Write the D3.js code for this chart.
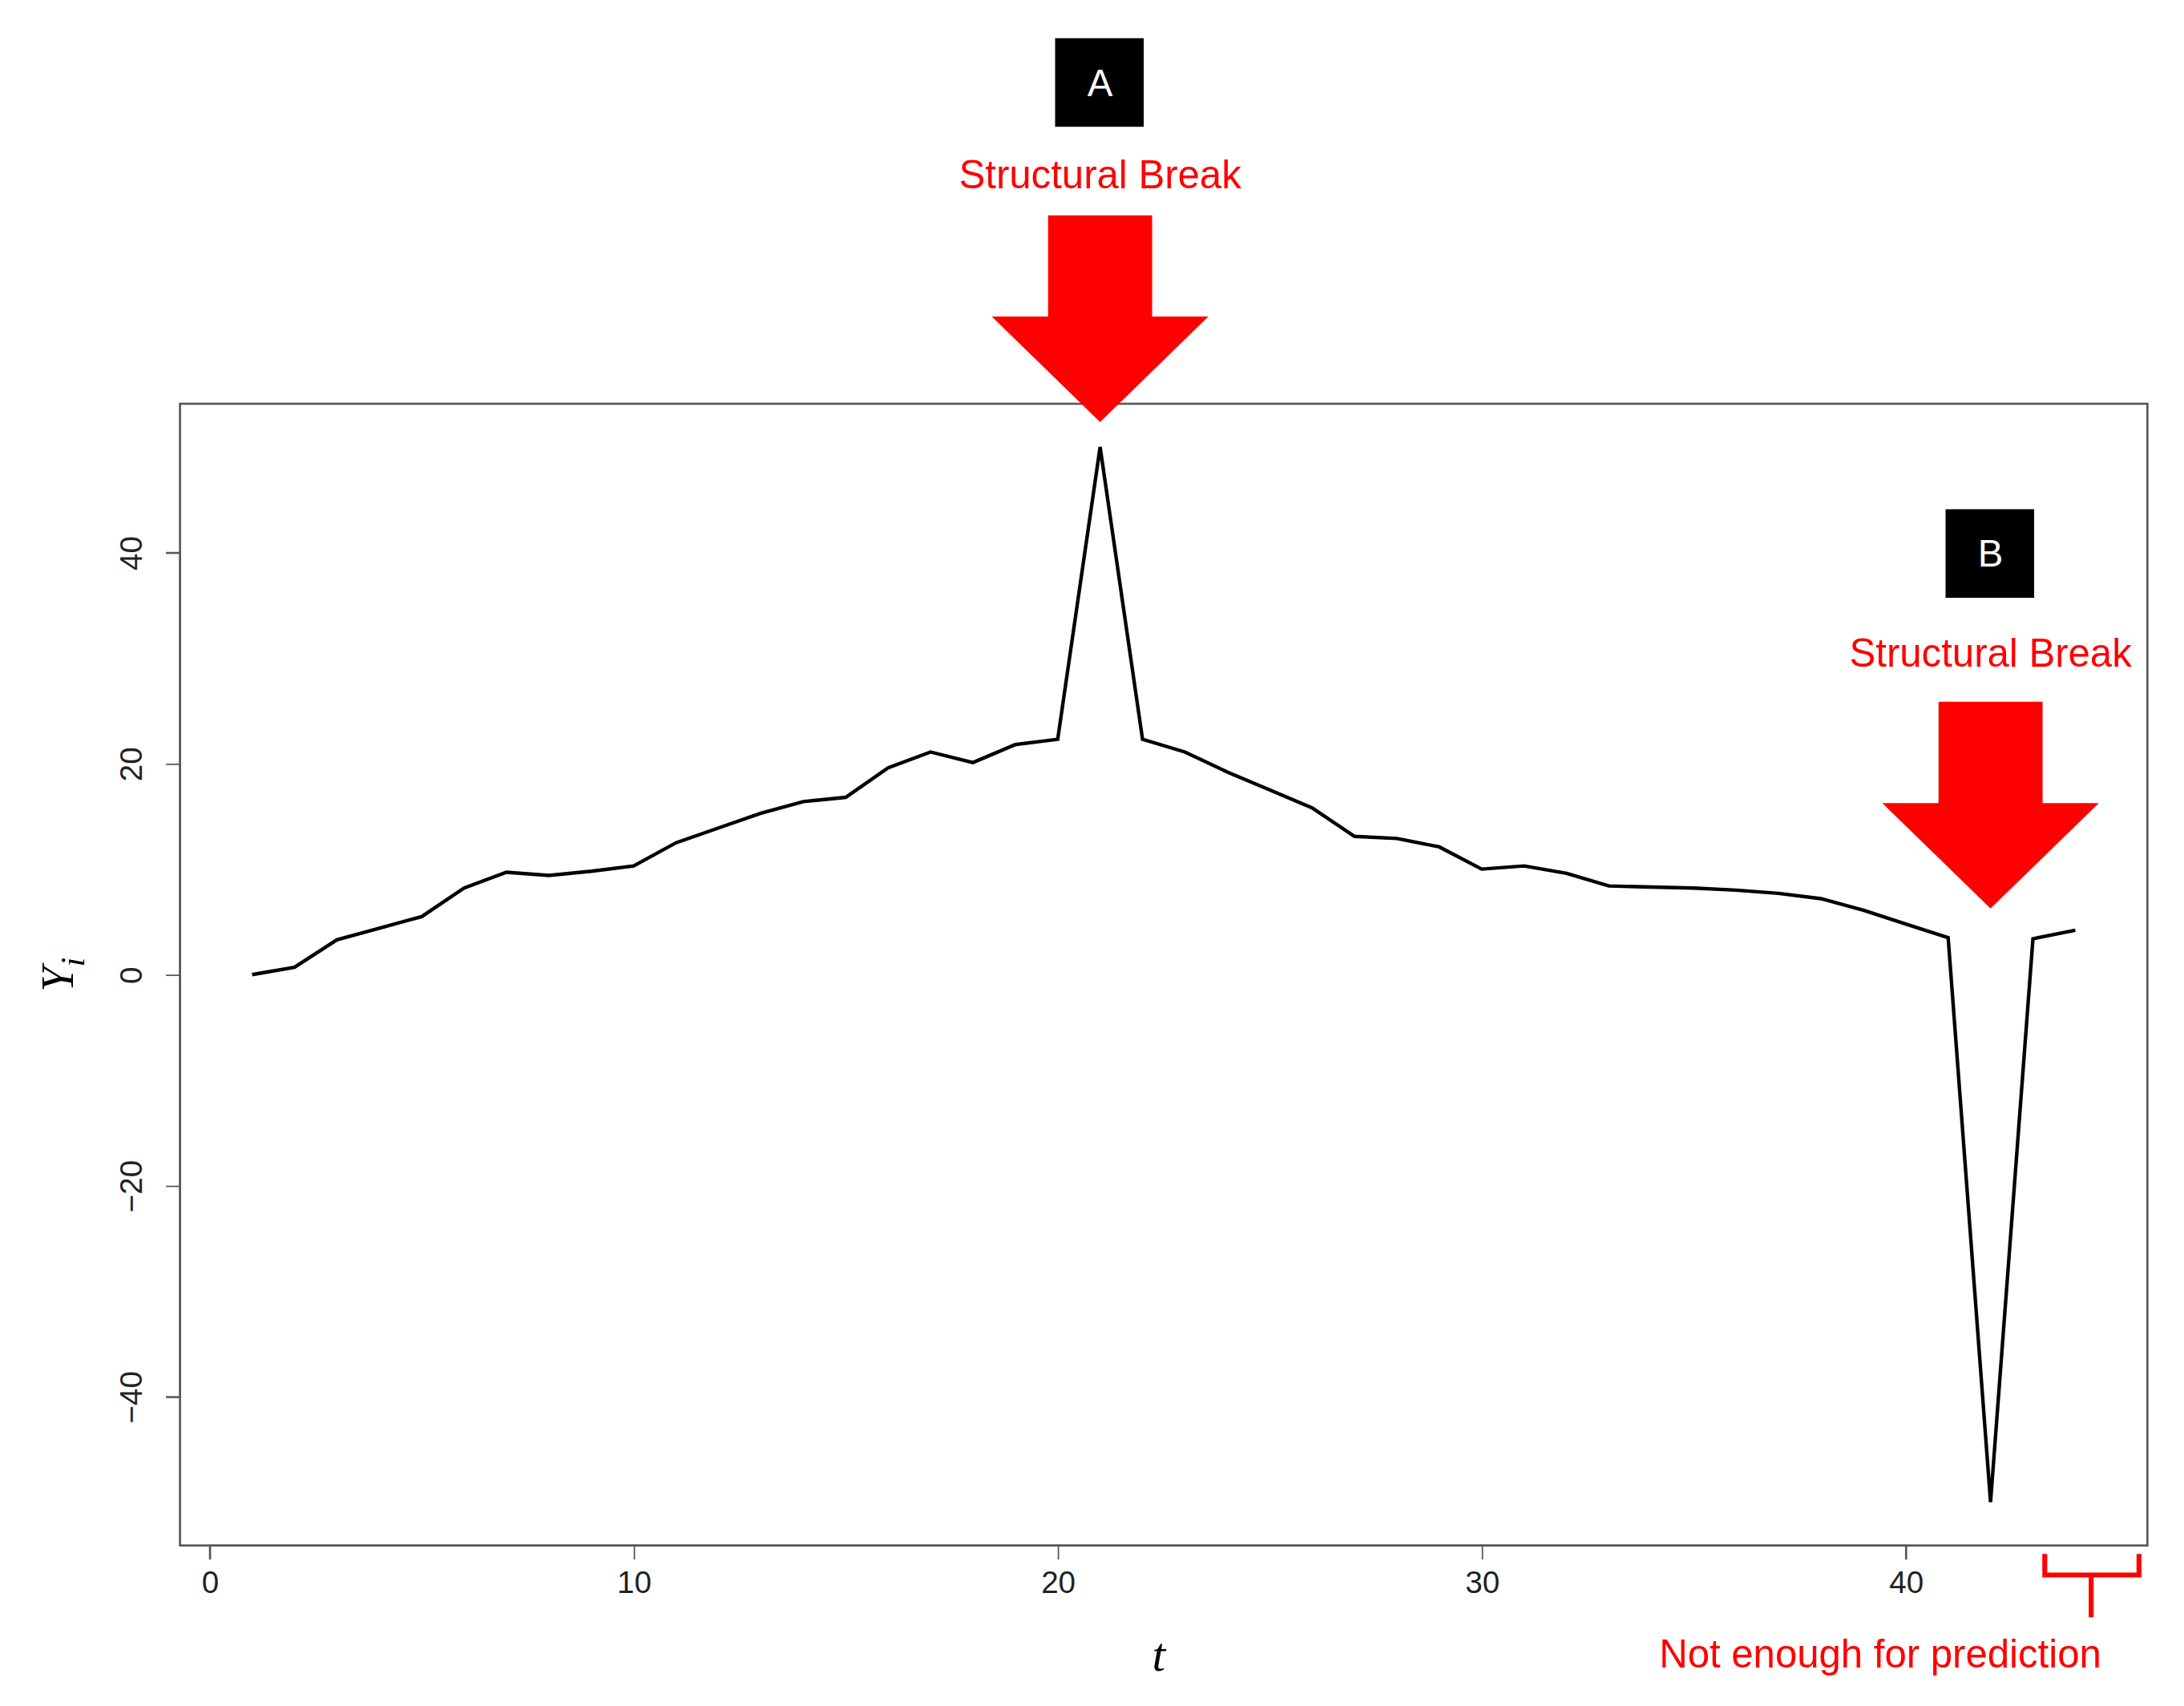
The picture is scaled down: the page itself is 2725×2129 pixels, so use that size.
<!DOCTYPE html>
<html><head><meta charset="utf-8">
<script src="https://cdn.jsdelivr.net/npm/d3@7"></script>
<style>body{margin:0;background:#fff;overflow:hidden}</style></head>
<body><svg id="c" style="display:block"></svg>
<script>
const tValues = d3.range(1, 45);
const yValues = [0,0.7,3.3,4.4,5.5,8.2,9.7,9.4,9.8,10.3,12.5,13.9,15.3,16.4,16.8,19.6,21.1,20.1,21.8,22.3,50,22.3,21.1,19.2,17.5,15.8,13.1,12.9,12.1,10,10.3,9.6,8.4,8.3,8.2,8.0,7.7,7.2,6.1,4.8,3.5,-50,3.4,4.2];
const xTicks = [0,10,20,30,40];
const yTicks = [-40,-20,0,20,40];
const breaks = [{t:21,label:"A",text:"Structural Break"},{t:42,label:"B",text:"Structural Break"}];

const svg = d3.select("#c").attr("width",2725).attr("height",2129).attr("viewBox","0 0 1553 1213");
const L=128,R=1527,T=287,B=1099;
const x = d3.scaleLinear().domain([-0.7,45.7]).range([L,R]);
const y = d3.scaleLinear().domain([-54.1,54.1]).range([B,T]);
const font="Liberation Sans, Arial, sans-serif";

svg.append("rect").attr("x",L).attr("y",T).attr("width",R-L).attr("height",B-T).attr("fill","none").attr("stroke","#555").attr("stroke-width",1.5);

const xa = svg.append("g").attr("transform",`translate(0,${B})`).call(d3.axisBottom(x).tickValues(xTicks).tickSize(10).tickPadding(8));
xa.select(".domain").attr("d",`M${x(0)},10V0H${x(40)}V10`).attr("stroke","#555");
xa.selectAll("text").attr("font-size",22).attr("font-family",font).attr("fill","#222");
xa.selectAll("line").attr("stroke","#555");
const ya = svg.append("g").attr("transform",`translate(${L},0)`).call(d3.axisLeft(y).tickValues(yTicks).tickSize(10).tickFormat(d=>d<0?"\u2212"+(-d):d));
ya.select(".domain").attr("d",`M-10,${y(-40)}H0V${y(40)}H-10`).attr("stroke","#555");
ya.selectAll("line").attr("stroke","#555");
ya.selectAll("text").attr("font-size",22).attr("font-family",font).attr("fill","#222")
  .attr("transform","translate(-35,0) rotate(-90)").attr("x",0).attr("y",0).attr("dy","0.35em").attr("text-anchor","middle");

svg.append("text").attr("x",824).attr("y",1188).attr("text-anchor","middle").attr("font-family","Liberation Serif, serif").attr("font-style","italic").attr("font-size",34).text("t");
const yl = svg.append("text").attr("transform","translate(52,693) rotate(-90)").attr("text-anchor","middle").attr("font-family","Liberation Serif, serif").attr("font-style","italic").attr("font-size",32);
yl.append("tspan").text("Y");
yl.append("tspan").attr("font-size",24).attr("dy",8).text("i");

svg.append("path").datum(tValues.map((t,i)=>[t,yValues[i]])).attr("fill","none").attr("stroke","#000").attr("stroke-width",2.5)
  .attr("d",d3.line().x(d=>x(d[0])).y(d=>y(d[1])));

const ann = [{tip:300,box:27,text:124},{tip:646,box:362,text:464}];
ann.forEach((a,i)=>{
  const cx=x(breaks[i].t), tip=a.tip;
  svg.append("path").attr("fill","#ff0000").attr("d",`M${cx-37},${tip-147}H${cx+37}V${tip-75}H${cx+77}L${cx},${tip}L${cx-77},${tip-75}H${cx-37}Z`);
  svg.append("rect").attr("x",cx-32).attr("y",a.box).attr("width",63).attr("height",63).attr("fill","#000");
  svg.append("text").attr("x",cx).attr("y",a.box+41).attr("text-anchor","middle").attr("fill","#fff").attr("font-family",font).attr("font-size",27).text(breaks[i].label);
  svg.append("text").attr("x",cx).attr("y",a.text+10).attr("text-anchor","middle").attr("fill","#ff0000").attr("font-family",font).attr("font-size",28).text(breaks[i].text);
});
svg.append("path").attr("fill","none").attr("stroke","#ff0000").attr("stroke-width",3.5)
  .attr("d","M1454,1105V1120H1521V1105M1487,1120V1150");
svg.append("text").attr("x",1337).attr("y",1186).attr("text-anchor","middle").attr("fill","#ff0000").attr("font-family",font).attr("font-size",28).text("Not enough for prediction");
</script></body></html>
